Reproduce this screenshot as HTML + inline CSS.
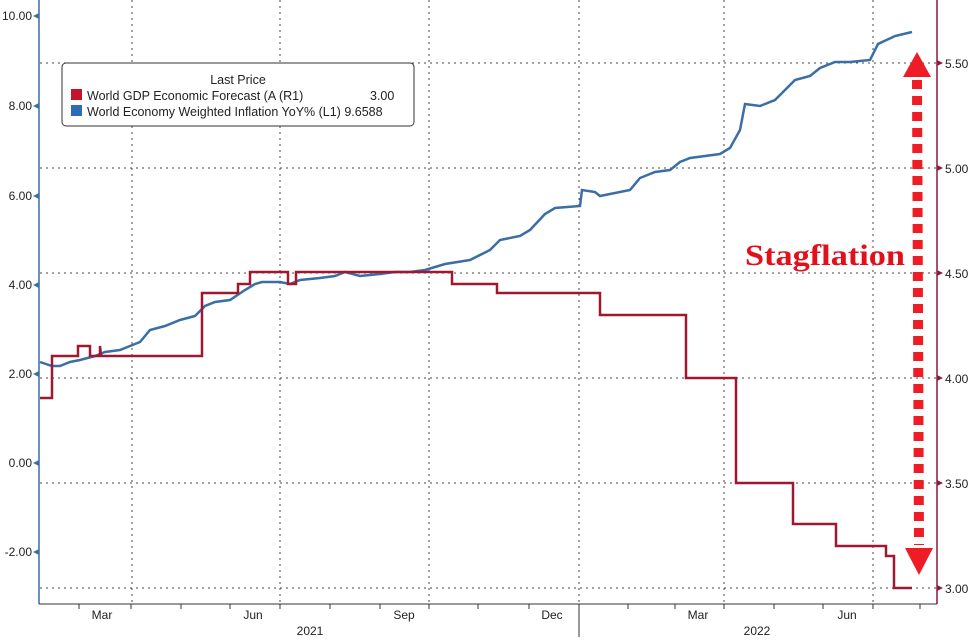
<!DOCTYPE html>
<html><head><style>
body{margin:0;background:#fff;}
svg text{font-family:"Liberation Sans",sans-serif;}
</style></head><body>
<svg width="973" height="637" viewBox="0 0 973 637" xmlns="http://www.w3.org/2000/svg">
<rect width="973" height="637" fill="#fff"/>
<g stroke="#444" stroke-width="1" stroke-dasharray="2,4">
<line x1="132" y1="0" x2="132" y2="604"/>
<line x1="280" y1="0" x2="280" y2="604"/>
<line x1="429" y1="0" x2="429" y2="604"/>
<line x1="579" y1="0" x2="579" y2="604"/>
<line x1="724" y1="0" x2="724" y2="604"/>
<line x1="873" y1="0" x2="873" y2="604"/>
<line x1="40" y1="63" x2="937" y2="63"/>
<line x1="40" y1="168" x2="937" y2="168"/>
<line x1="40" y1="273" x2="937" y2="273"/>
<line x1="40" y1="378" x2="937" y2="378"/>
<line x1="40" y1="483" x2="937" y2="483"/>
<line x1="40" y1="588" x2="937" y2="588"/>
</g>
<line x1="39" y1="0" x2="39" y2="604" stroke="#3a6ea5" stroke-width="1.5"/>
<line x1="937" y1="0" x2="937" y2="604" stroke="#8b1a3a" stroke-width="1.5"/>
<line x1="39" y1="604" x2="937" y2="604" stroke="#333" stroke-width="1"/>
<g stroke="#333">
<line x1="79" y1="604" x2="79" y2="609"/><line x1="131" y1="604" x2="131" y2="609"/><line x1="181" y1="604" x2="181" y2="609"/><line x1="230" y1="604" x2="230" y2="609"/><line x1="280" y1="604" x2="280" y2="609"/><line x1="330" y1="604" x2="330" y2="609"/><line x1="380" y1="604" x2="380" y2="609"/><line x1="429" y1="604" x2="429" y2="609"/><line x1="478" y1="604" x2="478" y2="609"/><line x1="529" y1="604" x2="529" y2="609"/><line x1="579" y1="604" x2="579" y2="637"/><line x1="628" y1="604" x2="628" y2="609"/><line x1="675" y1="604" x2="675" y2="609"/><line x1="724" y1="604" x2="724" y2="609"/><line x1="774" y1="604" x2="774" y2="609"/><line x1="823" y1="604" x2="823" y2="609"/><line x1="873" y1="604" x2="873" y2="609"/><line x1="920" y1="604" x2="920" y2="609"/>
</g>
<g font-size="12" fill="#222" text-anchor="middle">
<text x="102" y="619">Mar</text><text x="253" y="619">Jun</text><text x="404" y="619">Sep</text><text x="552" y="619">Dec</text><text x="698" y="619">Mar</text><text x="847" y="619">Jun</text>
<text x="310" y="635">2021</text><text x="757" y="635">2022</text>
</g>
<g font-size="12" fill="#222" text-anchor="end">
<text x="32" y="20">10.00</text><text x="32" y="110">8.00</text><text x="32" y="200">6.00</text><text x="32" y="289">4.00</text><text x="32" y="378">2.00</text><text x="32" y="467">0.00</text><text x="32" y="556">-2.00</text>
</g>
<g fill="#3a6ea5">
<polygon points="33,16 39,13 39,19"/><polygon points="33,106 39,103 39,109"/><polygon points="33,196 39,193 39,199"/><polygon points="33,285 39,282 39,288"/><polygon points="33,374 39,371 39,377"/><polygon points="33,463 39,460 39,466"/><polygon points="33,552 39,549 39,555"/>
</g>
<g fill="#8b1a3a">
<polygon points="943,63 937,60 937,66"/><polygon points="943,168 937,165 937,171"/><polygon points="943,273 937,270 937,276"/><polygon points="943,378 937,375 937,381"/><polygon points="943,483 937,480 937,486"/><polygon points="943,588 937,585 937,591"/>
</g>
<g font-size="12" fill="#222">
<text x="945" y="68">5.50</text><text x="945" y="173">5.00</text><text x="945" y="278">4.50</text><text x="945" y="383">4.00</text><text x="945" y="488">3.50</text><text x="945" y="593">3.00</text>
</g>
<polyline fill="none" stroke="#3a6ea5" stroke-width="2.5" points="40,362 52,366 60,366 70,362 80,360 95,356 105,352 120,350 130,346 140,342 150,330 165,326 180,320 195,316 205,306 215,302 230,300 245,290 255,284 262,282 280,282 290,284 300,280 320,278 335,276 345,272 360,276 380,274 395,272 410,272 425,270 445,264 470,260 490,250 500,240 520,236 530,230 545,214 555,208 580,206 582,190 595,192 600,196 630,190 640,178 655,172 670,170 680,162 690,158 720,154 730,148 740,130 745,104 760,106 775,100 785,90 795,80 810,76 820,68 835,62 850,62 870,60 878,44 895,36 912,32"/>
<polyline fill="none" stroke="#9e1830" stroke-width="2.5" points="40,398 52,398 52,356 78,356 78,346 90,346 90,356 100,356 100,346 101,356 202,356 202,293 238,293 238,284 250,284 250,272 288,272 288,284 296,284 296,272 452,272 452,284 497,284 497,293 600,293 600,315 686,315 686,378 736,378 736,483 793,483 793,524 836,524 836,546 886,546 886,556 894,556 894,588 912,588"/>
<rect x="62" y="63" width="352" height="63" rx="4" fill="#fff" stroke="#333" stroke-width="1"/>
<text x="238" y="84" font-size="12.5" text-anchor="middle" fill="#222">Last Price</text>
<rect x="71" y="89" width="11" height="11" fill="#c4142d"/>
<rect x="71" y="105" width="11" height="11" fill="#2d6db5"/>
<text x="87" y="100" font-size="12.5" fill="#222">World GDP Economic Forecast (A  (R1)</text>
<text x="370" y="100" font-size="12.5" fill="#222">3.00</text>
<text x="87" y="116" font-size="12.5" fill="#222">World Economy Weighted Inflation YoY%  (L1) 9.6588</text>
<text x="745" y="265" font-size="30" font-weight="bold" fill="#e3101c" textLength="160" lengthAdjust="spacingAndGlyphs" style="font-family:'Liberation Serif',serif">Stagflation</text>
<line x1="917" y1="80" x2="919" y2="545" stroke="#ee1c25" stroke-width="10" stroke-dasharray="9,7"/>
<polygon points="917,52 903,77 931,77" fill="#ee1c25"/>
<polygon points="919,575 905,548 933,548" fill="#ee1c25"/>
</svg>
</body></html>
